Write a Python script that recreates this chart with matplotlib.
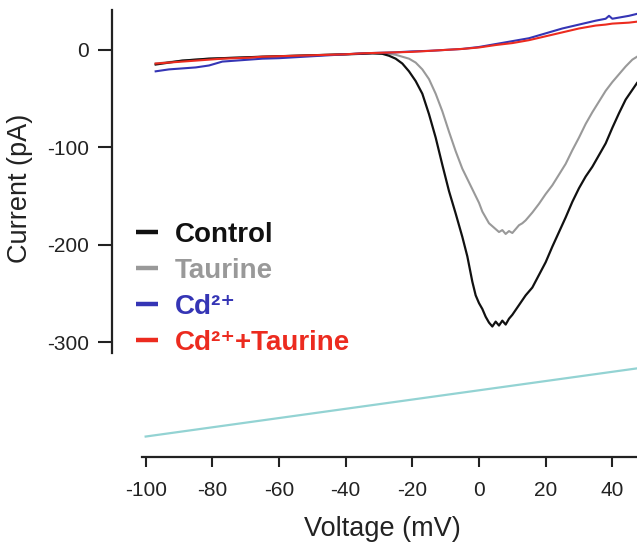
import matplotlib
matplotlib.use("Agg")
import matplotlib.pyplot as plt

plt.rcParams['font.family'] = ['Liberation Sans', 'DejaVu Sans']
plt.rcParams['axes.unicode_minus'] = False

# ---- data ----
v_leak = [-97, -93, -89, -85, -81, -77, -73, -69, -65, -60, -55, -50, -45, -40, -35, -30,
          -25, -20, -15, -10, -5, 0, 5, 10, 15, 20, 25, 30, 35, 38, 39, 40, 45, 47.4]
i_cd = [-22, -20, -19, -18, -16, -12, -11, -10, -9, -8.5, -7.5, -6.5, -5.5, -4.5, -3.5, -3,
        -2.5, -1.5, -1, 0, 1, 3, 6, 9, 12, 17, 22, 26, 30, 32, 35, 32, 35, 37]
i_cd_taurine = [-14, -13, -12, -11, -10, -9, -8.5, -8, -7, -6.5, -6, -5.5, -5, -4.5, -3.5, -3,
                -2.5, -2, -1, 0, 1, 2.5, 5, 7, 10, 14, 18, 22, 25, 26, 26.5, 27, 28, 29]

v_ctrl = [-97, -93, -89, -85, -81, -77, -73, -69, -65, -60, -55, -50, -45, -40, -35, -32,
          -29, -27, -25, -23, -21, -19, -17, -15, -13, -11, -9, -7, -5, -3.5, -2, -1,
          0, 1, 2, 3, 4, 5, 6, 7, 8, 9, 10, 12, 14, 16, 18, 20, 22, 24, 26, 28, 30, 32,
          34, 36, 38, 40, 42, 44, 46, 47.4]
i_ctrl = [-15, -13, -11, -10, -9, -8.5, -8, -7.5, -7, -6.5, -6, -5.5, -5, -4.5, -4, -3.5,
          -4, -6, -9, -14, -22, -32, -45, -66, -90, -118, -145, -168, -192, -212, -238, -252,
          -260, -266, -274, -280, -284, -279, -283, -278, -282, -276, -272, -262, -252, -244,
          -231, -218, -202, -187, -172, -156, -142, -130, -120, -108, -96, -80, -65, -51,
          -41, -34]

v_taur = [-97, -93, -89, -85, -81, -77, -73, -69, -65, -60, -55, -50, -45, -40, -35, -32,
          -29, -27, -25, -23, -21, -19, -17, -15, -13, -11, -9, -7, -5, -3, -1, 0, 1, 2, 3,
          4, 5, 6, 7, 8, 9, 10, 11, 12, 13, 14, 16, 18, 20, 22, 24, 26, 28, 30, 32, 34, 36,
          38, 40, 42, 44, 46, 47.4]
i_taur = [-14, -12.5, -11, -10, -9, -8.5, -8, -7.5, -7, -6.5, -6, -5.5, -5, -4.5, -4, -3.5,
          -3.5, -4, -5, -7, -9, -13, -20, -30, -45, -63, -84, -104, -122, -136, -150, -157,
          -166, -172, -178, -181, -184, -187, -185, -189, -186, -188, -184, -180, -178, -175,
          -167, -158, -148, -139, -128, -117, -103, -90, -76, -64, -53, -42, -33, -25, -17,
          -10, -7]

ramp_v = [-100, 47.4]
ramp_i = [-397, -327]

labels = ['Control', 'Taurine', 'Cd²⁺', 'Cd²⁺+Taurine']
colors = ['#111111', '#999999', '#3535b5', '#ec2b1f']

fig = plt.figure(figsize=(6.37, 5.46), dpi=100)
ax = fig.add_axes([112 / 637, 1 - 457 / 546, 525 / 637, 448 / 546])

ax.plot(ramp_v, ramp_i, color='#93d3d3', lw=1.6, zorder=1)
ax.plot(v_ctrl, i_ctrl, color=colors[0], lw=1.6, label=labels[0], zorder=3)
ax.plot(v_taur, i_taur, color=colors[1], lw=1.5, label=labels[1], zorder=2)
ax.plot(v_leak, i_cd, color=colors[2], lw=1.5, label=labels[2], zorder=4)
ax.plot(v_leak, i_cd_taurine, color=colors[3], lw=1.5, label=labels[3], zorder=5)

ax.set_xlim(-110.1, 47.4)
ax.set_ylim(-418, 42)

for s in ['top', 'right']:
    ax.spines[s].set_visible(False)
ax.spines['left'].set_bounds(-311, 41)
ax.spines['bottom'].set_bounds(-101, 47.4)
for s in ['left', 'bottom']:
    ax.spines[s].set_linewidth(1.6)
    ax.spines[s].set_color('#222222')

ax.set_xticks([-100, -80, -60, -40, -20, 0, 20, 40])
ax.set_yticks([0, -100, -200, -300])
ax.tick_params(axis='x', direction='out', length=7.5, width=1.5, pad=10,
               labelsize=15, colors='#222222')
ax.tick_params(axis='y', direction='out', length=10, width=1.5, pad=6.5,
               labelsize=15, colors='#222222')

fig.text(382 / 637, 1 - 529 / 546, 'Voltage (mV)', ha='center', va='center',
         fontsize=19.5, color='#222222')
fig.text(20 / 637, 1 - 188 / 546, 'Current (pA)', ha='center', va='center',
         rotation=90, fontsize=19.5, color='#222222')

leg = ax.legend(loc='upper left', bbox_to_anchor=(136 / 637, 1 - 222 / 546),
                bbox_transform=fig.transFigure, frameon=False, borderpad=0,
                borderaxespad=0, handlelength=0.78, handletextpad=0.62,
                labelspacing=0.36, labelcolor='linecolor',
                prop={'weight': 'bold', 'size': 20})
for h in leg.legend_handles:
    h.set_linewidth(3.2)
    h.set_solid_capstyle('butt')

fig.savefig('out.png', dpi=100)
